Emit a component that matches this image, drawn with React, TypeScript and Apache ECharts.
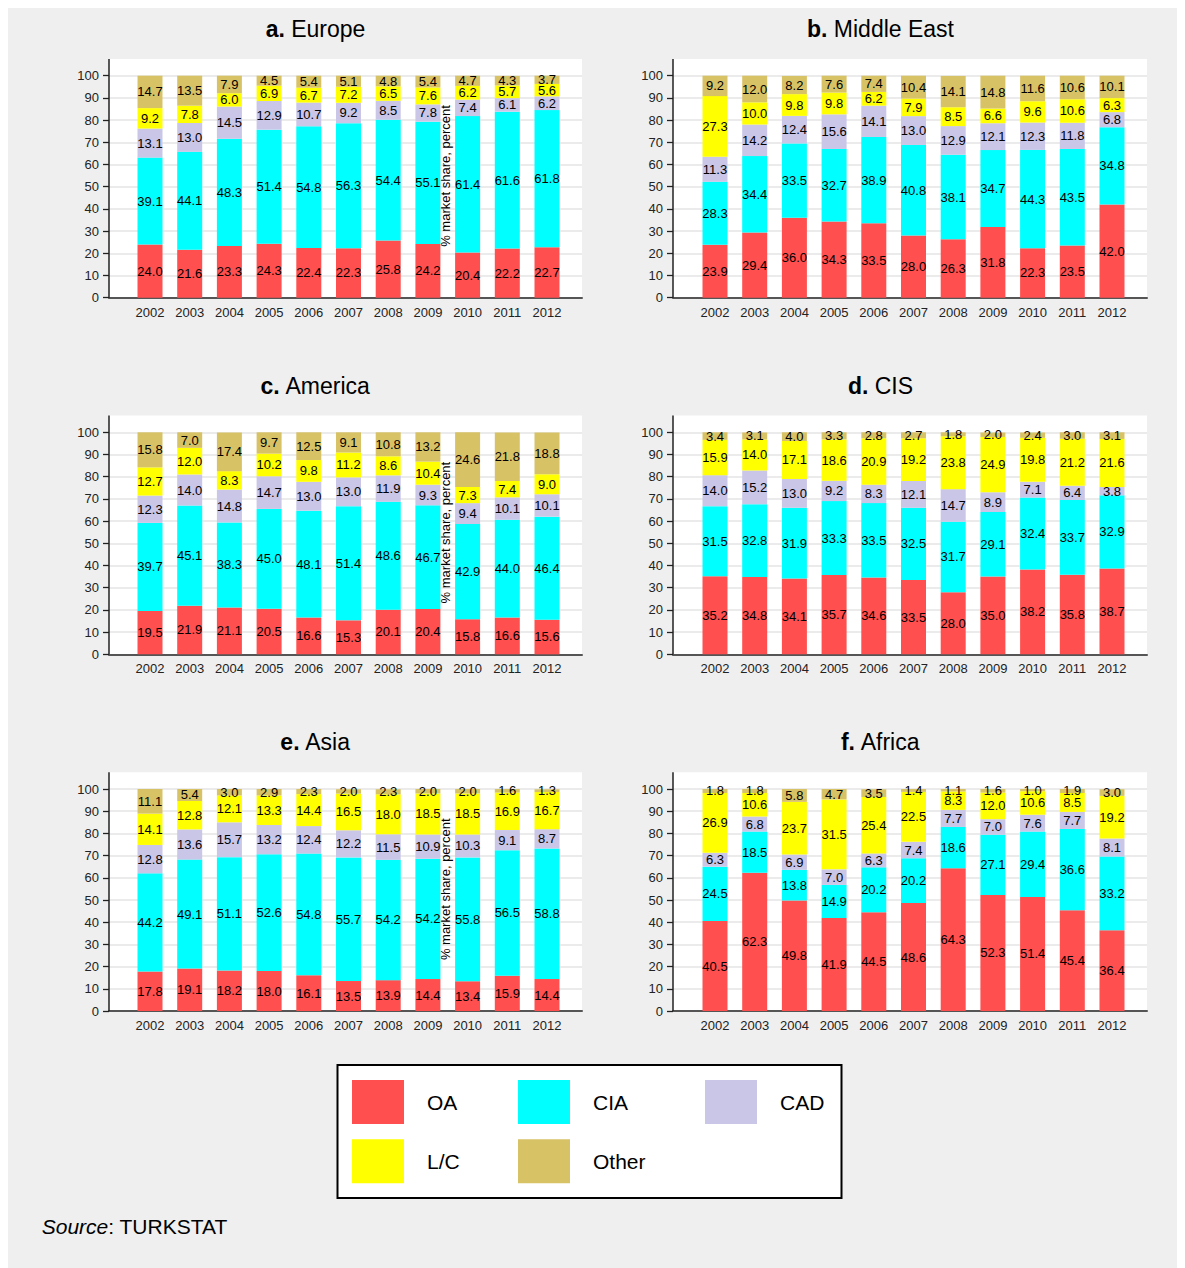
import React, { useEffect, useRef } from 'react';
import * as echarts from 'echarts';

const years = ['2002', '2003', '2004', '2005', '2006', '2007', '2008', '2009', '2010', '2011', '2012'];

const seriesNames = ['OA', 'CIA', 'CAD', 'L/C', 'Other'];
const seriesColors = ['#ff4f4f', '#00ffff', '#c9c6e8', '#ffff00', '#d8c266'];

// a. Europe
const europeOA = [24.0, 21.6, 23.3, 24.3, 22.4, 22.3, 25.8, 24.2, 20.4, 22.2, 22.7];
const europeCIA = [39.1, 44.1, 48.3, 51.4, 54.8, 56.3, 54.4, 55.1, 61.4, 61.6, 61.8];
const europeCAD = [13.1, 13.0, 14.5, 12.9, 10.7, 9.2, 8.5, 7.8, 7.4, 6.1, 6.2];
const europeLC = [9.2, 7.8, 6.0, 6.9, 6.7, 7.2, 6.5, 7.6, 6.2, 5.7, 5.6];
const europeOther = [14.7, 13.5, 7.9, 4.5, 5.4, 5.1, 4.8, 5.4, 4.7, 4.3, 3.7];

// b. Middle East
const meOA = [23.9, 29.4, 36.0, 34.3, 33.5, 28.0, 26.3, 31.8, 22.3, 23.5, 42.0];
const meCIA = [28.3, 34.4, 33.5, 32.7, 38.9, 40.8, 38.1, 34.7, 44.3, 43.5, 34.8];
const meCAD = [11.3, 14.2, 12.4, 15.6, 14.1, 13.0, 12.9, 12.1, 12.3, 11.8, 6.8];
const meLC = [27.3, 10.0, 9.8, 9.8, 6.2, 7.9, 8.5, 6.6, 9.6, 10.6, 6.3];
const meOther = [9.2, 12.0, 8.2, 7.6, 7.4, 10.4, 14.1, 14.8, 11.6, 10.6, 10.1];

// c. America
const americaOA = [19.5, 21.9, 21.1, 20.5, 16.6, 15.3, 20.1, 20.4, 15.8, 16.6, 15.6];
const americaCIA = [39.7, 45.1, 38.3, 45.0, 48.1, 51.4, 48.6, 46.7, 42.9, 44.0, 46.4];
const americaCAD = [12.3, 14.0, 14.8, 14.7, 13.0, 13.0, 11.9, 9.3, 9.4, 10.1, 10.1];
const americaLC = [12.7, 12.0, 8.3, 10.2, 9.8, 11.2, 8.6, 10.4, 7.3, 7.4, 9.0];
const americaOther = [15.8, 7.0, 17.4, 9.7, 12.5, 9.1, 10.8, 13.2, 24.6, 21.8, 18.8];

// d. CIS
const cisOA = [35.2, 34.8, 34.1, 35.7, 34.6, 33.5, 28.0, 35.0, 38.2, 35.8, 38.7];
const cisCIA = [31.5, 32.8, 31.9, 33.3, 33.5, 32.5, 31.7, 29.1, 32.4, 33.7, 32.9];
const cisCAD = [14.0, 15.2, 13.0, 9.2, 8.3, 12.1, 14.7, 8.9, 7.1, 6.4, 3.8];
const cisLC = [15.9, 14.0, 17.1, 18.6, 20.9, 19.2, 23.8, 24.9, 19.8, 21.2, 21.6];
const cisOther = [3.4, 3.1, 4.0, 3.3, 2.8, 2.7, 1.8, 2.0, 2.4, 3.0, 3.1];

// e. Asia
const asiaOA = [17.8, 19.1, 18.2, 18.0, 16.1, 13.5, 13.9, 14.4, 13.4, 15.9, 14.4];
const asiaCIA = [44.2, 49.1, 51.1, 52.6, 54.8, 55.7, 54.2, 54.2, 55.8, 56.5, 58.8];
const asiaCAD = [12.8, 13.6, 15.7, 13.2, 12.4, 12.2, 11.5, 10.9, 10.3, 9.1, 8.7];
const asiaLC = [14.1, 12.8, 12.1, 13.3, 14.4, 16.5, 18.0, 18.5, 18.5, 16.9, 16.7];
const asiaOther = [11.1, 5.4, 3.0, 2.9, 2.3, 2.0, 2.3, 2.0, 2.0, 1.6, 1.3];

// f. Africa
const africaOA = [40.5, 62.3, 49.8, 41.9, 44.5, 48.6, 64.3, 52.3, 51.4, 45.4, 36.4];
const africaCIA = [24.5, 18.5, 13.8, 14.9, 20.2, 20.2, 18.6, 27.1, 29.4, 36.6, 33.2];
const africaCAD = [6.3, 6.8, 6.9, 7.0, 6.3, 7.4, 7.7, 7.0, 7.6, 7.7, 8.1];
const africaLC = [26.9, 10.6, 23.7, 31.5, 25.4, 22.5, 8.3, 12.0, 10.6, 8.5, 19.2];
const africaOther = [1.8, 1.8, 5.8, 4.7, 3.5, 1.4, 1.1, 1.6, 1.0, 1.9, 3.0];

const panelLetters = ['a.', 'b.', 'c.', 'd.', 'e.', 'f.'];
const panelNames = ['Europe', 'Middle East', 'America', 'CIS', 'Asia', 'Africa'];
const panelData = [
  [europeOA, europeCIA, europeCAD, europeLC, europeOther],
  [meOA, meCIA, meCAD, meLC, meOther],
  [americaOA, americaCIA, americaCAD, americaLC, americaOther],
  [cisOA, cisCIA, cisCAD, cisLC, cisOther],
  [asiaOA, asiaCIA, asiaCAD, asiaLC, asiaOther],
  [africaOA, africaCIA, africaCAD, africaLC, africaOther],
];

const yAxisName = '% market share, percent';
const sourceLabel = 'Source';
const sourceText = 'TURKSTAT';

const FONT = "'Liberation Sans', Arial, Helvetica, sans-serif";

// layout (chart coordinates)
const colAxisX = [101, 665];
const colRight = [574, 1139];
const colFirstCenter = [142, 707];
const bandW = 39.7;
const colTitleX = [307.5, 872.5];
const rowBottom = [289.7, 646.3, 1003];
const plotH = 222;
const whiteExtra = 16.7;

function buildOption() {
  const grids: any[] = [];
  const xAxes: any[] = [];
  const yAxes: any[] = [];
  const series: any[] = [];
  const graphics: any[] = [];

  panelData.forEach((data, k) => {
    const col = k % 2;
    const row = Math.floor(k / 2);
    const left = colAxisX[col];
    const right = colRight[col];
    const bottom = rowBottom[row];
    const top = bottom - plotH;
    const bgIdx = 2 * k;
    const barIdx = 2 * k + 1;

    // background grid: full-width axes with gridlines, y labels and ticks
    grids.push({ left, top, width: right - left, height: plotH });
    xAxes.push({
      type: 'value',
      gridIndex: bgIdx,
      min: 0,
      max: 1,
      axisLine: { show: true, lineStyle: { color: '#555', width: 2 } },
      axisTick: { show: false },
      splitLine: { show: false },
      axisLabel: { show: false },
    });
    yAxes.push({
      type: 'value',
      gridIndex: bgIdx,
      min: 0,
      max: 100,
      interval: 10,
      axisLine: { show: false },
      axisTick: { show: true, length: 6, lineStyle: { color: '#222', width: 1.3 } },
      splitLine: { show: true, lineStyle: { color: '#e4e4e4', width: 1.5 } },
      axisLabel: { fontSize: 13, fontFamily: FONT, color: '#222', margin: 10 },
    });

    // bar grid: category axis aligned to bars
    const barLeft = colFirstCenter[col] - bandW / 2;
    grids.push({ left: barLeft, top, width: bandW * years.length, height: plotH });
    xAxes.push({
      type: 'category',
      gridIndex: barIdx,
      data: years,
      axisLine: { show: false },
      axisTick: { show: false },
      splitLine: { show: false },
      axisLabel: { fontSize: 13, fontFamily: FONT, color: '#222', margin: 8, interval: 0 },
    });
    yAxes.push({
      type: 'value',
      gridIndex: barIdx,
      min: 0,
      max: 100,
      show: false,
    });

    data.forEach((arr, j) => {
      series.push({
        type: 'bar',
        name: seriesNames[j],
        xAxisIndex: barIdx,
        yAxisIndex: barIdx,
        stack: 'panel' + k,
        barWidth: 25,
        data: arr,
        itemStyle: { color: seriesColors[j] },
        label: {
          show: true,
          position: 'inside',
          formatter: (p: any) => Number(p.value).toFixed(1),
          color: '#000',
          fontSize: 13,
          fontFamily: FONT,
          textBorderWidth: 0,
        },
        emphasis: { disabled: true },
      });
    });

    // white plot background
    graphics.push({
      type: 'rect',
      z: -10,
      shape: { x: left, y: top - whiteExtra, width: right - left, height: plotH + whiteExtra },
      style: { fill: '#ffffff' },
      silent: true,
    });
    // y axis line
    graphics.push({
      type: 'line',
      z: 5,
      shape: { x1: left, y1: top - whiteExtra, x2: left, y2: bottom },
      style: { stroke: '#222', lineWidth: 1.5 },
      silent: true,
    });
    // title
    graphics.push({
      type: 'text',
      x: colTitleX[col],
      y: top - 46.7,
      style: {
        text: '{b|' + panelLetters[k] + '} ' + panelNames[k],
        rich: {
          b: { fontWeight: 'bold', fontSize: 23, fontFamily: FONT, fill: '#000' },
        },
        fontSize: 23,
        fontFamily: FONT,
        fill: '#000',
        align: 'center',
        verticalAlign: 'middle',
      },
      silent: true,
    });
    if (col === 0) {
      graphics.push({
        type: 'text',
        z: 100,
        x: 437.7,
        y: top + 100.3,
        rotation: Math.PI / 2,
        style: {
          text: yAxisName,
          fontSize: 13,
          fontFamily: FONT,
          fill: '#000',
          align: 'center',
          verticalAlign: 'middle',
        },
        silent: true,
      });
    }
  });

  // legend box
  graphics.push({
    type: 'rect',
    z: -10,
    shape: { x: 329.5, y: 1057, width: 504, height: 133 },
    style: { fill: '#ffffff', stroke: '#000', lineWidth: 2 },
    silent: true,
  });
  // source
  graphics.push({
    type: 'text',
    x: 33.7,
    y: 1218.7,
    style: {
      text: '{i|' + sourceLabel + '}: ' + sourceText,
      rich: { i: { fontStyle: 'italic', fontSize: 21, fontFamily: FONT, fill: '#000' } },
      fontSize: 21,
      fontFamily: FONT,
      fill: '#000',
      align: 'left',
      verticalAlign: 'middle',
    },
    silent: true,
  });

  const legendBase = {
    orient: 'vertical',
    top: 1072,
    padding: 0,
    itemWidth: 52,
    itemHeight: 44,
    itemGap: 15.3,
    icon: 'rect',
    selectedMode: false,
    textStyle: { fontSize: 21, fontFamily: FONT, color: '#000', padding: [0, 0, 0, 18] },
  };

  return {
    animation: false,
    backgroundColor: '#efefef',
    textStyle: { fontFamily: FONT },
    grid: grids,
    xAxis: xAxes,
    yAxis: yAxes,
    series,
    legend: [
      { ...legendBase, left: 344, data: ['OA', 'L/C'] },
      { ...legendBase, left: 510, data: ['CIA', 'Other'] },
      { ...legendBase, left: 697, data: ['CAD'] },
    ],
    graphic: { elements: graphics },
  };
}

export default function App() {
  const ref = useRef<HTMLDivElement>(null);
  useEffect(() => {
    document.documentElement.style.overflow = 'hidden';
    document.body.style.overflow = 'hidden';
    if (!ref.current) return;
    const chart = echarts.init(ref.current, undefined, { renderer: 'svg' });
    chart.setOption(buildOption() as any);
    return () => {
      chart.dispose();
    };
  }, []);
  return <div ref={ref} style={{ width: 1177, height: 1260 }} />;
}
